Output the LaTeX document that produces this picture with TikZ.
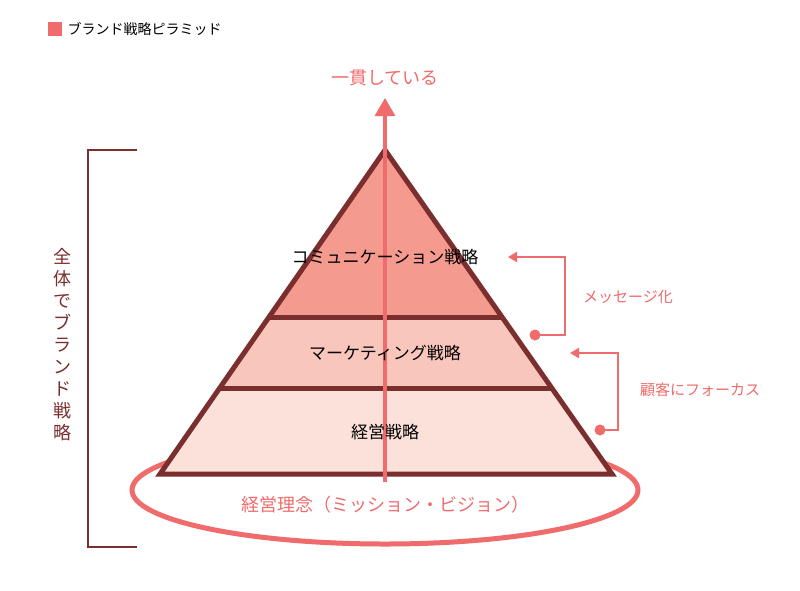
\documentclass[tikz,border=0pt]{standalone}
\usepackage{fontspec}
\setmainfont{Noto Sans CJK JP}
\usetikzlibrary{arrows.meta}
\definecolor{maroon}{HTML}{7A2E2E}
\definecolor{salmon}{HTML}{F06B6B}
\definecolor{lay1}{HTML}{F59A8F}
\definecolor{lay2}{HTML}{F9C6BC}
\definecolor{lay3}{HTML}{FCE1DA}
\tikzset{lbl/.style={font=\fontsize{17}{20}\selectfont,text=black},
 side/.style={font=\fontsize{15}{18}\selectfont,text=salmon},
 conn/.style={salmon,line width=2pt,-{Triangle[length=9pt,width=10pt]}},
 dot/.style={circle,fill=salmon,inner sep=0pt,minimum size=11pt}}
\begin{document}
\begin{tikzpicture}[x=1pt,y=-1pt]
\useasboundingbox[fill=white] (0,0) rectangle (800,590);
% title
\fill[salmon] (48,22) rectangle (62,36);
\node[anchor=west,font=\fontsize{14}{16}\selectfont] (title) at (64,29) {ブランド戦略ピラミッド};
% ellipse
\draw[salmon,line width=5pt] (385,490) ellipse [x radius=253, y radius=54];
% layers
\fill[lay3] (220,388) -- (552,388) -- (612,474) -- (160,474) -- cycle;
\fill[lay2] (269,317) -- (502,317) -- (552,388) -- (220,388) -- cycle;
\fill[lay1] (385,150) -- (502,317) -- (269,317) -- cycle;
\draw[maroon,line width=5pt,line join=miter] (385,150) -- (612,474) -- (160,474) -- cycle;
\draw[maroon,line width=5pt] (269,317) -- (502,317) (220,388) -- (552,388);
% vertical arrow
\coordinate (abot) at (385,482);
\coordinate (atop) at (385,98);
\draw[salmon,line width=3.5pt,-{Triangle[length=18pt,width=20pt]}] (abot) -- (atop);
\node[side,font=\fontsize{18}{20}\selectfont] (kan) at (385,78) {一貫している};
% labels
\node[lbl] (l1) at (385,257) {コミュニケーション戦略};
\node[lbl] (l2) at (385,353) {マーケティング戦略};
\node[lbl] (l3) at (385,432) {経営戦略};
\node[font=\fontsize{18}{20}\selectfont,text=salmon,fill=white,inner sep=1pt] (rinen) at (385,505) {経営理念（ミッション・ビジョン）};
% connectors
\node[dot] (d1) at (535,335) {};
\coordinate (t1) at (508,257);
\draw[conn] (d1.center) -- (565,335) -- (565,257) -- (t1);
\node[side] (m1) at (628,297) {メッセージ化};
\node[dot] (d2) at (600,430) {};
\coordinate (t2) at (570,353);
\draw[conn] (d2.center) -- (618,430) -- (618,353) -- (t2);
\node[side] (m2) at (700,390) {顧客にフォーカス};
% bracket
\draw[maroon,line width=2pt] (137,150) -- (88,150) -- (88,547) -- (137,547);
\node[align=center,font=\fontsize{18}{22}\selectfont,text=maroon] (zen) at (62,345) {全\\体\\で\\ブ\\ラ\\ン\\ド\\戦\\略};
\end{tikzpicture}
\end{document}
